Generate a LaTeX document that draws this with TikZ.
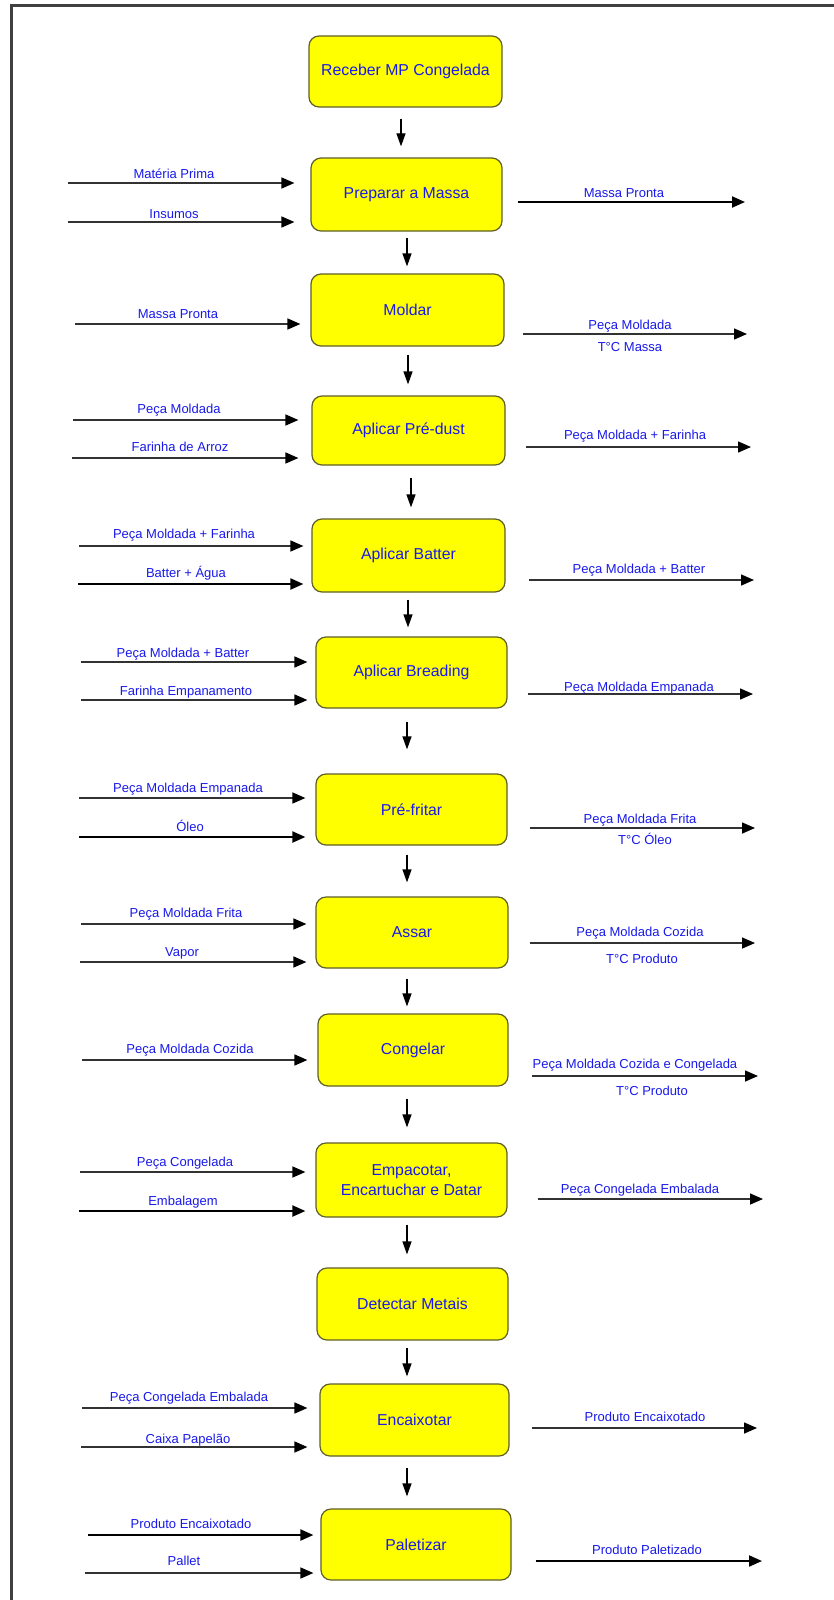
\documentclass[tikz,border=0pt]{standalone}
\usepackage{fontspec}
\setmainfont{Liberation Sans}
\usetikzlibrary{arrows.meta,calc}
\definecolor{txtblue}{RGB}{25,25,235}
\definecolor{boxline}{RGB}{95,95,40}
\definecolor{boxfill}{RGB}{255,255,0}
\definecolor{frameg}{RGB}{64,64,64}
\definecolor{linegray}{RGB}{50,50,50}
\newcommand\inarr[6]{% box, name, xstart, y, gap, style
  \coordinate (#2) at (#3,#4);
  \draw[harrow,#6,shorten >=#5pt] (#2) -- (#2 -| #1.west);}
\newcommand\outarr[6]{% box, name, xend, y, gap, style
  \coordinate (#2) at (#3,#4);
  \draw[harrow,#6,shorten <=#5pt] (#2 -| #1.east) -- (#2);}
\newcommand\vflow[5]{% from, to, dx, gap1, gap2
  \draw[varrow,shorten <=#4pt,shorten >=#5pt] ($(#1.south)+(#3,0)$) -- ($(#1.south |- #2.north)+(#3,0)$);}
\begin{document}
\begin{tikzpicture}[x=1pt,y=-1pt,
  procbox/.style={draw=boxline,line width=1.2pt,fill=boxfill,rounded corners=10pt,
    text=txtblue,font=\fontsize{15.8}{20}\selectfont,align=center,inner sep=0pt},
  lbl/.style={text=txtblue,font=\fontsize{13}{15}\selectfont,inner sep=0pt,anchor=base},
  harrow/.style={draw=linegray,line width=1.5pt,-{Triangle[length=13pt,width=11pt,color=black]}},
  dark/.style={draw=black,line width=2pt},
  plain/.style={},
  varrow/.style={draw=black,line width=1.2pt,-{Triangle[length=13pt,width=9pt]}},
  frameline/.style={draw=frameg,line width=2.8pt}]
\useasboundingbox[fill=white] (0,0) rectangle (834,1600);
\draw[frameline] (11.5,1600) -- (11.5,5.5) -- (834,5.5);

% process boxes
\node[procbox,minimum width=193pt,minimum height=71pt] (b1) at (405.5,71.5) {Receber MP Congelada};
\node[procbox,minimum width=191pt,minimum height=73pt] (b2) at (406.5,194.5) {Preparar a Massa};
\node[procbox,minimum width=193pt,minimum height=72pt] (b3) at (407.5,310) {Moldar};
\node[procbox,minimum width=193pt,minimum height=69pt] (b4) at (408.5,430.5) {Aplicar Pré-dust};
\node[procbox,minimum width=193pt,minimum height=73pt] (b5) at (408.5,555.5) {Aplicar Batter};
\node[procbox,minimum width=191pt,minimum height=71pt] (b6) at (411.5,672.5) {Aplicar Breading};
\node[procbox,minimum width=191pt,minimum height=71pt] (b7) at (411.5,809.5) {Pré-fritar};
\node[procbox,minimum width=192pt,minimum height=71pt] (b8) at (412,932.5) {Assar};
\node[procbox,minimum width=190pt,minimum height=72pt] (b9) at (413,1050) {Congelar};
\node[procbox,minimum width=191pt,minimum height=74pt] (b10) at (411.5,1180) {Empacotar,\\Encartuchar e Datar};
\node[procbox,minimum width=191pt,minimum height=72pt] (b11) at (412.5,1304) {Detectar Metais};
\node[procbox,minimum width=189pt,minimum height=72pt] (b12) at (414.5,1420) {Encaixotar};
\node[procbox,minimum width=190pt,minimum height=71pt] (b13) at (416,1544.5) {Paletizar};

% main flow
\vflow{b1}{b2}{-4.5}{11}{11}
\vflow{b2}{b3}{0.5}{6}{7}
\vflow{b3}{b4}{0.5}{8}{11}
\vflow{b4}{b5}{2.5}{12}{11}
\vflow{b5}{b6}{-0.5}{7}{9}
\vflow{b6}{b7}{-4.5}{13}{24}
\vflow{b7}{b8}{-4.5}{9}{14}
\vflow{b8}{b9}{-5}{10}{7}
\vflow{b9}{b10}{-6}{12}{15}
\vflow{b10}{b11}{-4.5}{7}{13}
\vflow{b11}{b12}{-5.5}{7}{7}
\vflow{b12}{b13}{-7.5}{11}{12}

% inputs
\inarr{b2}{i2a}{68}{183}{16}{plain}
\inarr{b2}{i2b}{68}{222}{16}{plain}
\inarr{b3}{i3a}{75}{324}{10}{plain}
\inarr{b4}{i4a}{73}{420}{13}{plain}
\inarr{b4}{i4b}{72}{458}{13}{plain}
\inarr{b5}{i5a}{79}{546}{8}{plain}
\inarr{b5}{i5b}{78}{584}{8}{dark}
\inarr{b6}{i6a}{81}{662}{8}{plain}
\inarr{b6}{i6b}{81}{700}{8}{plain}
\inarr{b7}{i7a}{79}{798}{10}{plain}
\inarr{b7}{i7b}{79}{837}{10}{dark}
\inarr{b8}{i8a}{81}{924}{9}{plain}
\inarr{b8}{i8b}{80}{962}{9}{plain}
\inarr{b9}{i9a}{82}{1060}{10}{plain}
\inarr{b10}{i10a}{80}{1172}{10}{plain}
\inarr{b10}{i10b}{79}{1211}{10}{dark}
\inarr{b12}{i12a}{82}{1408}{12}{plain}
\inarr{b12}{i12b}{81}{1447}{12}{plain}
\inarr{b13}{i13a}{88}{1535}{7}{dark}
\inarr{b13}{i13b}{85}{1573}{7}{plain}

% outputs
\outarr{b2}{o2}{745}{202}{15}{dark}
\outarr{b3}{o3}{747}{334}{18}{plain}
\outarr{b4}{o4}{751}{447}{20}{plain}
\outarr{b5}{o5}{754}{580}{23}{plain}
\outarr{b6}{o6}{753}{694}{20}{plain}
\outarr{b7}{o7}{755}{828}{22}{plain}
\outarr{b8}{o8}{755}{943}{21}{plain}
\outarr{b9}{o9}{758}{1076}{23}{plain}
\outarr{b10}{o10}{763}{1199}{30}{plain}
\outarr{b12}{o12}{757}{1428}{22}{plain}
\outarr{b13}{o13}{762}{1561}{24}{dark}

% input labels
\node[lbl] (l2a) at (174,178.7) {Matéria Prima};
\node[lbl] (l2b) at (174,218.7) {Insumos};
\node[lbl] (l3a) at (178,318.7) {Massa Pronta};
\node[lbl] (l4a) at (179,413.7) {Peça Moldada};
\node[lbl] (l4b) at (180,451.7) {Farinha de Arroz};
\node[lbl] (l5a) at (184,538.7) {Peça Moldada + Farinha};
\node[lbl] (l5b) at (186,577.7) {Batter + Água};
\node[lbl] (l6a) at (183,657.7) {Peça Moldada + Batter};
\node[lbl] (l6b) at (186,695.7) {Farinha Empanamento};
\node[lbl] (l7a) at (188,792.7) {Peça Moldada Empanada};
\node[lbl] (l7b) at (190,831.7) {Óleo};
\node[lbl] (l8a) at (186,917.7) {Peça Moldada Frita};
\node[lbl] (l8b) at (182,956.7) {Vapor};
\node[lbl] (l9a) at (190,1053.7) {Peça Moldada Cozida};
\node[lbl] (l10a) at (185,1166.7) {Peça Congelada};
\node[lbl] (l10b) at (183,1205.7) {Embalagem};
\node[lbl] (l12a) at (189,1401.7) {Peça Congelada Embalada};
\node[lbl] (l12b) at (188,1443.7) {Caixa Papelão};
\node[lbl] (l13a) at (191,1528.7) {Produto Encaixotado};
\node[lbl] (l13b) at (184,1565.7) {Pallet};

% output labels
\node[lbl] (m2) at (624,197.7) {Massa Pronta};
\node[lbl] (m3a) at (630,329.7) {Peça Moldada};
\node[lbl] (m3b) at (630,351.7) {T°C Massa};
\node[lbl] (m4) at (635,439.7) {Peça Moldada + Farinha};
\node[lbl] (m5) at (639,573.7) {Peça Moldada + Batter};
\node[lbl] (m6) at (639,691.7) {Peça Moldada Empanada};
\node[lbl] (m7a) at (640,823.7) {Peça Moldada Frita};
\node[lbl] (m7b) at (645,844.7) {T°C Óleo};
\node[lbl] (m8a) at (640,936.7) {Peça Moldada Cozida};
\node[lbl] (m8b) at (642,963.7) {T°C Produto};
\node[lbl] (m9a) at (635,1068.7) {Peça Moldada Cozida e Congelada};
\node[lbl] (m9b) at (652,1095.7) {T°C Produto};
\node[lbl] (m10) at (640,1193.7) {Peça Congelada Embalada};
\node[lbl] (m12) at (645,1421.7) {Produto Encaixotado};
\node[lbl] (m13) at (647,1554.7) {Produto Paletizado};
\end{tikzpicture}
\end{document}
